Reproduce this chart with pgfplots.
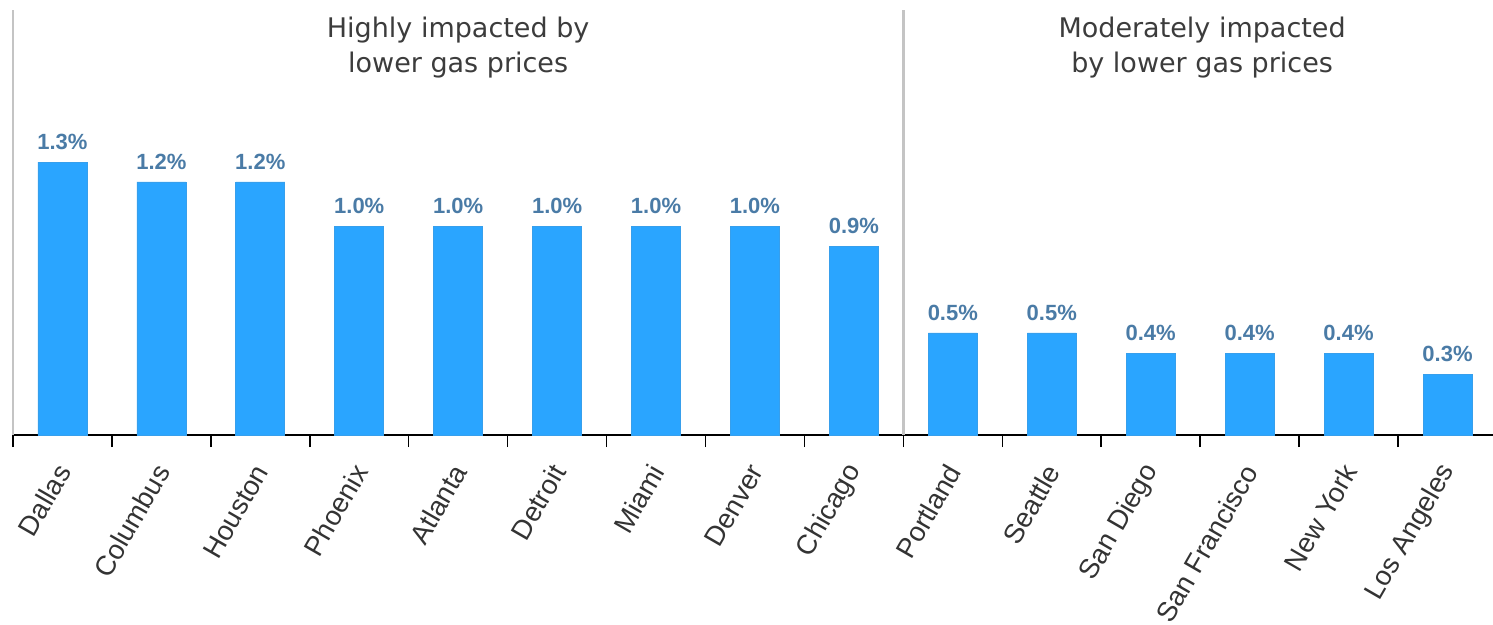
\documentclass[border=0pt]{standalone}
\usepackage{pgfplots}
\pgfplotsset{compat=1.18}
\usepackage{fontspec}
\setmainfont{Liberation Sans}
\newfontfamily\headfont{DejaVu Sans}
\definecolor{barblue}{HTML}{2AA5FF}
\definecolor{valblue}{HTML}{4A7BA6}
\definecolor{headgray}{HTML}{3C3C3C}
\definecolor{labgray}{HTML}{333333}
\definecolor{linegray}{HTML}{C4C4C4}
\begin{document}
\begin{tikzpicture}
\begin{axis}[
  x=98.93pt, y=210pt,
  xmin=-0.5, xmax=14.5, ymin=0, ymax=2.024,
  /pgf/number format/assume math mode=true,
  axis x line*=bottom,
  axis y line=none,
  x axis line style={black, line width=2pt},
  clip=false,
  xtick={0,...,14},
  xticklabels={Dallas,Columbus,Houston,Phoenix,Atlanta,Detroit,Miami,Denver,Chicago,Portland,Seattle,San Diego,San Francisco,New York,Los Angeles},
  major tick length=0pt,
  xticklabel style={yshift=-29pt, xshift=3pt, rotate=60, anchor=east, font=\fontsize{27.5}{32}\selectfont, text=labgray},
  extra x ticks={-0.5,0.5,1.5,2.5,3.5,4.5,5.5,6.5,7.5,8.5,9.5,10.5,11.5,12.5,13.5},
  extra x tick labels={},
  extra x tick style={tick align=outside, major tick length=12pt, tick style={black, line width=1.6pt}},
  tick align=outside,
  ytick=\empty,
]
\addplot[ybar, bar width=49pt, fill=barblue, draw=barblue!85!gray, line width=0.6pt,
  point meta=explicit,
  nodes near coords={\pgfmathprintnumber[fixed,precision=1,fixed zerofill,assume math mode=true]{\pgfplotspointmeta}\%},
  nodes near coords style={font=\fontsize{22}{26}\selectfont\bfseries, text=valblue, anchor=south, inner sep=0pt, yshift=12pt}]
  table[x=x, y=y, meta=m] {
x y m
0 1.30 1.3
1 1.205 1.2
2 1.205 1.2
3 0.995 1.0
4 0.995 1.0
5 0.995 1.0
6 0.995 1.0
7 0.995 1.0
8 0.90 0.9
9 0.486 0.5
10 0.486 0.5
11 0.39 0.4
12 0.39 0.4
13 0.39 0.4
14 0.29 0.3
};
\draw[linegray, line width=2.5pt] (axis cs:-0.5,0) -- (axis cs:-0.5,2.024);
\draw[linegray, line width=2.5pt] (axis cs:8.5,0) -- (axis cs:8.5,2.024);
\node[anchor=north, inner sep=0pt, align=center, text=headgray, font=\headfont\fontsize{27}{35}\selectfont, yshift=-7pt]
  at (axis cs:4,2.024) {Highly impacted by\\lower gas prices};
\node[anchor=north, inner sep=0pt, align=center, text=headgray, font=\headfont\fontsize{27}{35}\selectfont, yshift=-7pt]
  at (axis cs:11.52,2.024) {Moderately impacted\\by lower gas prices};
\coordinate (bbsw) at (axis cs:-0.631,-0.9);
\coordinate (bbne) at (axis cs:14.46,2.0716);
\end{axis}
\pgfresetboundingbox
\path[use as bounding box] (bbsw) rectangle (bbne);
\end{tikzpicture}
\end{document}
